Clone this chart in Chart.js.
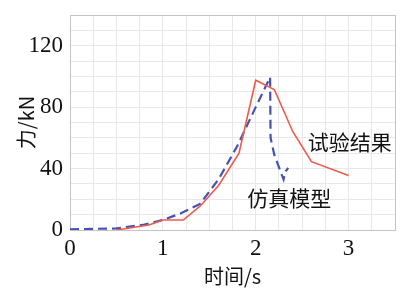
<!DOCTYPE html>
<html>
<head>
<meta charset="utf-8">
<script src="https://cdn.jsdelivr.net/npm/chart.js@4"></script>
<style>
  html, body { margin: 0; padding: 0; background: #fff; }
  #wrap { width: 408px; height: 288px; }
</style>
</head>
<body>
<div id="wrap"><canvas id="forceChart"></canvas></div>
<script>
// 试验结果 (test)
var testTime  = [0.5, 0.85, 1.0, 1.22, 1.4, 1.6, 1.82, 2.0, 2.2, 2.4, 2.6, 3.0];
var testForce = [0,   3.3,  6.5, 6.5,  15.5, 29,  50,  97.5, 91.5, 64, 44.5, 35.5];

// 仿真模型 (simulation)
var simTime  = [0,   0.5, 0.8, 1.0, 1.2, 1.4, 1.6, 1.8, 2.0, 2.155, 2.16, 2.2, 2.25, 2.28, 2.3, 2.32, 2.35];
var simForce = [0.5, 1,   3.5, 6.5, 11,  17,  33,  54.5, 80, 99.5, 60,  49,  41,   36,   33,  38,   40.5];

var xLabels = [0, 1, 2, 3];
var yLabels = [0, 40, 80, 120];

function toPoints(xs, ys) {
  var pts = [];
  for (var i = 0; i < xs.length; i++) pts.push({ x: xs[i], y: ys[i] });
  return pts;
}

var cjk = '"Noto Sans CJK SC", "Noto Sans", sans-serif';
var serif = '"Liberation Serif", "DejaVu Serif", serif';

// text labels next to the curves
var curveLabels = {
  id: 'curveLabels',
  afterDatasetsDraw: function(chart) {
    var ctx = chart.ctx, xs = chart.scales.x, ys = chart.scales.y;
    ctx.save();
    ctx.font = '21px ' + cjk;
    ctx.fillStyle = '#111';
    ctx.textBaseline = 'middle';
    ctx.textAlign = 'left';
    ctx.fillText('试验结果', xs.getPixelForValue(2.56), ys.getPixelForValue(57.5));
    ctx.fillText('仿真模型', xs.getPixelForValue(1.91), ys.getPixelForValue(21));
    ctx.restore();
  }
};

var ctx = document.getElementById('forceChart').getContext('2d');
var forceChart = new Chart(ctx, {
  type: 'line',
  data: {
    datasets: [{
      label: '试验结果',
      data: toPoints(testTime, testForce),
      borderColor: '#ef5a4c',
      borderWidth: 1.6,
      pointRadius: 0,
      tension: 0,
      fill: false
    }, {
      label: '仿真模型',
      data: toPoints(simTime, simForce),
      borderColor: '#4652b2',
      borderWidth: 2.2,
      borderDash: [9, 5],
      pointRadius: 0,
      tension: 0,
      fill: false
    }]
  },
  options: {
    responsive: true,
    maintainAspectRatio: false,
    animation: false,
    layout: {
      padding: { left: 14, right: 13, top: 15, bottom: 0 }
    },
    scales: {
      x: {
        type: 'linear',
        min: 0,
        max: 3.5,
        afterFit: function(scale) {
          scale.height = 58;
          scale.paddingLeft = 0;
          scale.paddingRight = 0;
        },
        ticks: {
          stepSize: 0.25,
          autoSkip: false,
          maxRotation: 0,
          padding: 5,
          color: '#111',
          font: { family: serif, size: 23 },
          callback: function(value) {
            return xLabels.indexOf(value) >= 0 ? String(value) : '';
          }
        },
        grid: {
          drawTicks: false,
          color: function(c) { return c.tick && c.tick.value === 3.5 ? '#c4c4c4' : '#e8e8e8'; },
          lineWidth: 1
        },
        border: { color: '#c4c4c4' },
        title: {
          display: true,
          text: '时间/s',
          color: '#111',
          font: { family: cjk, size: 20 },
          padding: 0
        }
      },
      y: {
        min: 0,
        max: 140,
        afterFit: function(scale) {
          scale.width = 56;
          scale.paddingTop = 0;
          scale.paddingBottom = 0;
        },
        ticks: {
          stepSize: 10,
          autoSkip: false,
          padding: 7,
          color: '#111',
          font: { family: serif, size: 23 },
          callback: function(value) {
            return yLabels.indexOf(value) >= 0 ? String(value) : '';
          }
        },
        grid: {
          drawTicks: false,
          color: function(c) { return c.tick && c.tick.value === 140 ? '#c4c4c4' : '#e8e8e8'; },
          lineWidth: 1
        },
        border: { color: '#c4c4c4' },
        title: {
          display: true,
          text: '力/kN',
          color: '#111',
          font: { family: cjk, size: 20 },
          padding: 0
        }
      }
    },
    plugins: {
      legend: { display: false },
      tooltip: { enabled: false }
    }
  },
  plugins: [curveLabels]
});
</script>
</body>
</html>
